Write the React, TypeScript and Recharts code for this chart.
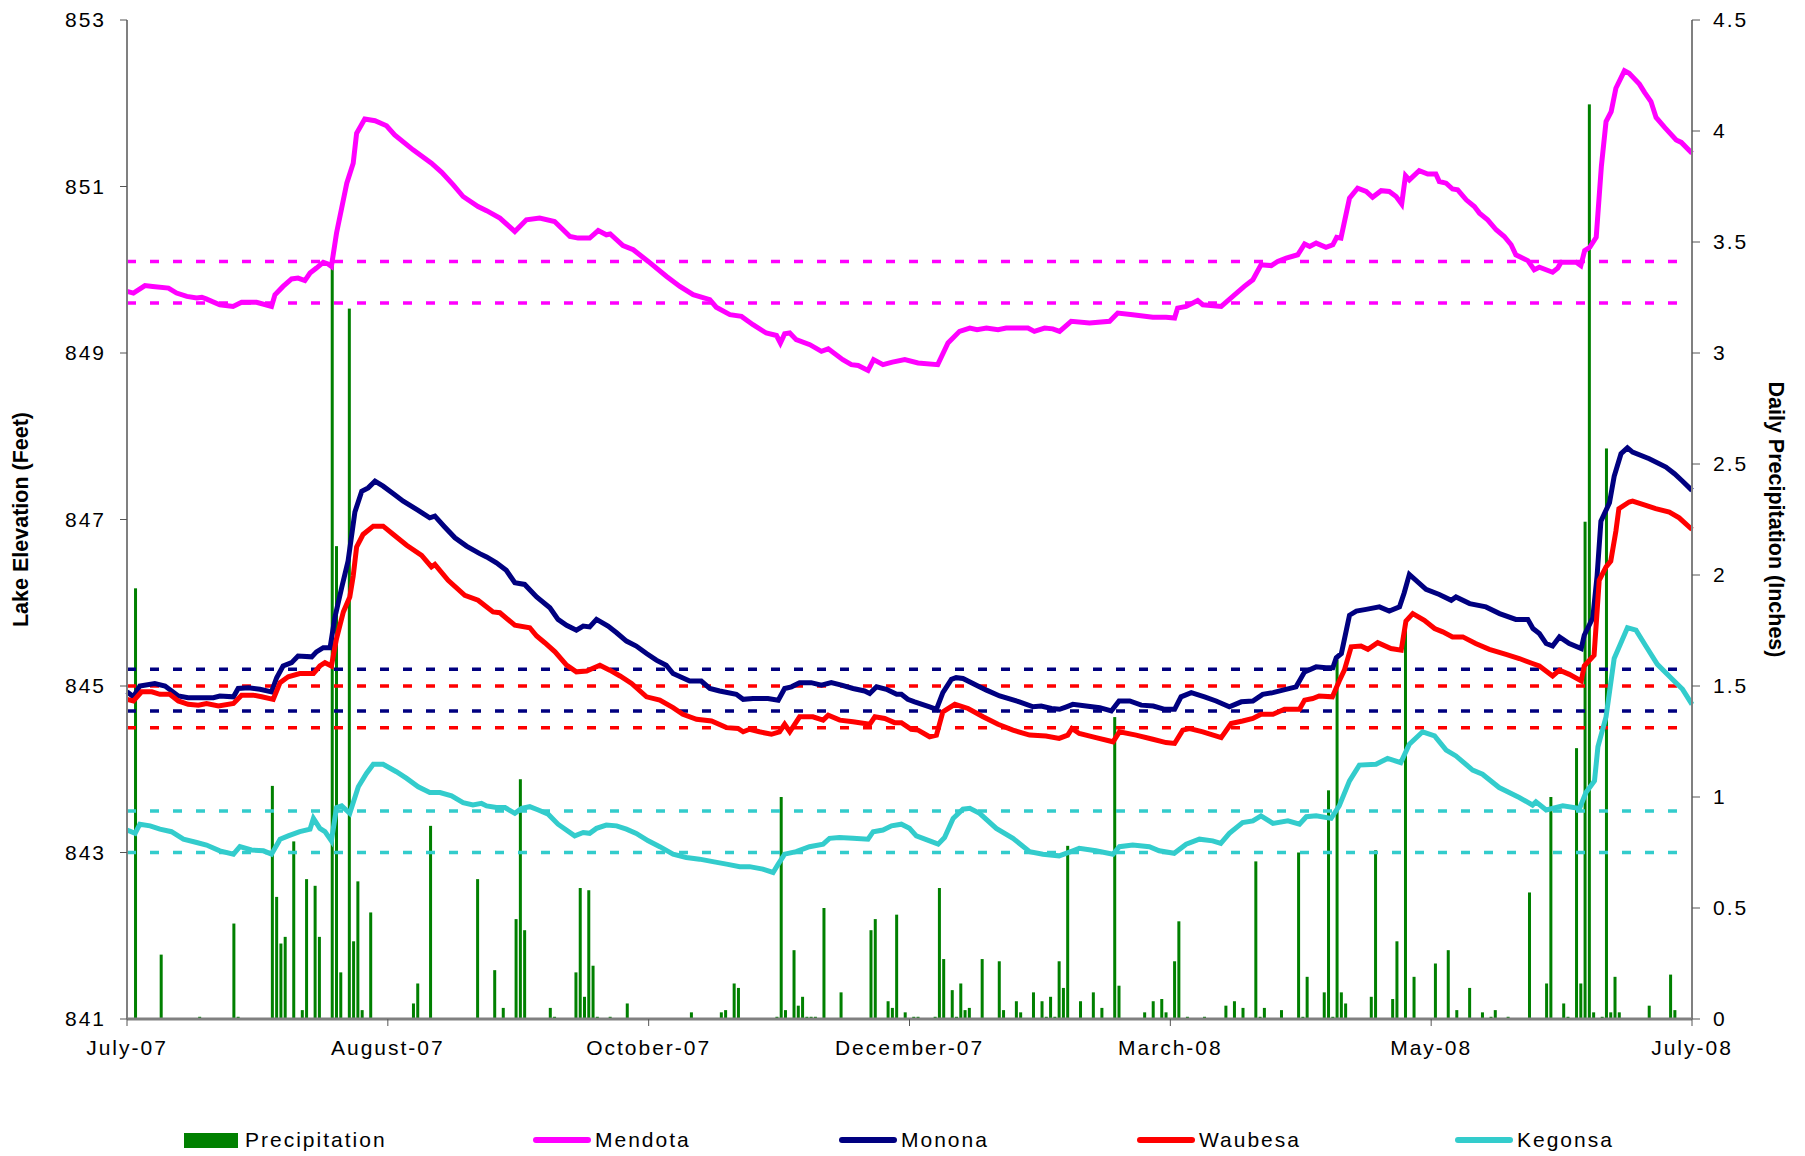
import {
  ComposedChart,
  Bar,
  Line,
  XAxis,
  YAxis,
  ReferenceLine,
  Legend,
} from 'recharts';

// x axis runs in days from 1 July 2007 (day 0) to 1 July 2008 (day 366)
const X_TICKS = [0, 61, 122, 183, 244, 305, 366];
const X_LABELS = ['July-07', 'August-07', 'October-07', 'December-07', 'March-08', 'May-08', 'July-08'];
const ELEVATION_TICKS = [841, 843, 845, 847, 849, 851, 853];
const PRECIP_TICKS = [0, 0.5, 1, 1.5, 2, 2.5, 3, 3.5, 4, 4.5];

// [day, feet]
const MENDOTA = [
  [0, 849.74], [1.5, 849.72], [4.2, 849.81], [6, 849.8], [9.7, 849.78], [11.6, 849.72], [14, 849.68],
  [16.3, 849.66], [17.5, 849.67], [18.5, 849.65], [21.7, 849.58], [24.8, 849.56], [26.8, 849.61],
  [30.3, 849.61], [33.8, 849.56], [34.6, 849.7], [36.5, 849.8], [38.5, 849.89], [40, 849.9],
  [41.6, 849.87], [42.8, 849.96], [44.3, 850.02], [45.9, 850.09], [47, 850.07], [47.8, 850.04],
  [49, 850.44], [51.4, 851.04], [52.9, 851.28], [53.7, 851.64], [55.6, 851.81], [58, 851.79],
  [60.7, 851.73], [62.6, 851.62], [66.9, 851.44], [71.2, 851.28], [73.6, 851.17], [76.3, 851.02],
  [78.6, 850.88], [82.1, 850.76], [84.1, 850.71], [87.2, 850.62], [90.7, 850.46], [93.4, 850.6],
  [96.5, 850.62], [100, 850.58], [103.6, 850.4], [105.5, 850.38], [108.2, 850.38], [110.2, 850.47],
  [112.1, 850.42], [113, 850.43], [116, 850.29], [118.4, 850.24], [121.9, 850.1], [126.2, 849.92],
  [129.3, 849.8], [132.4, 849.7], [136.3, 849.64], [137.8, 849.55], [141, 849.46], [143.7, 849.44],
  [146.4, 849.34], [149.5, 849.24], [151.9, 849.21], [152.8, 849.12], [153.8, 849.23], [155, 849.24],
  [156.5, 849.16], [159.7, 849.1], [162.4, 849.02], [164, 849.05], [167.4, 848.92], [169.4, 848.86],
  [171, 848.85], [173.3, 848.79], [174.6, 848.92], [176.8, 848.86], [179, 848.89], [181.9, 848.92],
  [185, 848.88], [189.6, 848.86], [192, 849.12], [194.7, 849.26], [197.1, 849.3], [198.8, 849.28],
  [201, 849.3], [203.7, 849.28], [205.6, 849.3], [210.7, 849.3], [212.2, 849.26], [214.6, 849.3],
  [216.5, 849.29], [218.1, 849.26], [220.8, 849.38], [225.1, 849.36], [229.8, 849.38], [231.7, 849.48],
  [235.2, 849.46], [239.9, 849.43], [243, 849.43], [245, 849.42], [245.7, 849.54], [247.7, 849.56],
  [250.4, 849.63], [251.6, 849.58], [255.9, 849.56], [258.6, 849.68], [261.3, 849.8], [263.3, 849.88],
  [265.2, 850.06], [267.6, 850.05], [269.1, 850.1], [271.1, 850.14], [273.8, 850.18], [275.4, 850.31],
  [276.6, 850.28], [278.1, 850.32], [280.4, 850.27], [282, 850.3], [282.9, 850.39], [283.9, 850.38],
  [285.9, 850.86], [287.8, 850.98], [289.8, 850.94], [291.3, 850.87], [293.3, 850.95], [295.2, 850.94],
  [296.8, 850.88], [298.1, 850.79], [299, 851.13], [299.9, 851.08], [302.2, 851.19], [304.2, 851.15],
  [306.1, 851.15], [306.9, 851.06], [308.5, 851.04], [310, 850.97], [311.2, 850.96], [313.2, 850.84],
  [315.1, 850.76], [316.3, 850.68], [318.2, 850.6], [320.2, 850.48], [322.1, 850.4], [323.7, 850.3],
  [324.8, 850.18], [327.6, 850.11], [329.1, 850], [330.3, 850.03], [333.4, 849.97], [334.6, 850.02],
  [335.4, 850.09], [338.9, 850.09], [340, 850.05], [340.9, 850.23], [342.1, 850.27], [343.6, 850.39],
  [344.8, 851.24], [345.9, 851.78], [347.1, 851.9], [348.2, 852.18], [350.2, 852.39], [351.3, 852.36],
  [353.7, 852.23], [354.9, 852.13], [356.4, 852.02], [357.6, 851.83], [359.6, 851.71], [362.3, 851.56],
  [363.5, 851.53], [366, 851.4],
];

const MONONA = [
  [0, 844.93], [1.5, 844.87], [3, 845], [6.5, 845.03], [8.9, 845], [12, 844.88], [14.3, 844.86],
  [20.2, 844.86], [21.7, 844.88], [24.9, 844.87], [26, 844.97], [28.4, 844.98], [31.1, 844.96],
  [33.8, 844.93], [35, 845.1], [36.5, 845.24], [38.5, 845.28], [40, 845.36], [43.2, 845.35],
  [44.3, 845.41], [45.9, 845.46], [47.5, 845.46], [48.6, 845.82], [50.2, 846.18], [51.7, 846.5],
  [53.3, 847.09], [54.9, 847.34], [56.4, 847.38], [58, 847.46], [59.9, 847.4], [62.3, 847.31],
  [64.6, 847.22], [68.1, 847.11], [70.8, 847.02], [72, 847.04], [74.3, 846.91], [76.7, 846.78],
  [79.4, 846.68], [82.5, 846.59], [84.1, 846.55], [86.4, 846.48], [88.7, 846.39], [90.7, 846.24],
  [93, 846.22], [95.8, 846.07], [98.9, 845.94], [100.8, 845.8], [102.8, 845.73], [105.1, 845.67],
  [106.7, 845.72], [108.2, 845.71], [109.8, 845.8], [112.5, 845.72], [114.5, 845.64], [116.8, 845.54],
  [119.1, 845.48], [121.5, 845.39], [123.8, 845.31], [126.1, 845.25], [127.7, 845.15], [131.6, 845.06],
  [134.3, 845.06], [136.3, 844.97], [138.6, 844.94], [142.5, 844.9], [144.1, 844.84], [146.4, 844.85],
  [149.9, 844.85], [152.3, 844.83], [153.8, 844.97], [155.4, 844.99], [157.3, 845.04], [160, 845.04],
  [162.4, 845.01], [164.7, 845.04], [167.1, 845.01], [169.8, 844.97], [172.5, 844.94], [173.7, 844.91],
  [175.3, 844.99], [177.6, 844.96], [180, 844.9], [181.1, 844.9], [182.6, 844.84], [184.2, 844.81],
  [187.7, 844.75], [189.3, 844.72], [190.8, 844.92], [192.8, 845.08], [193.9, 845.1], [195.5, 845.09],
  [199, 845], [201, 844.95], [204.1, 844.88], [208.7, 844.81], [211.9, 844.75], [213.8, 844.76],
  [216.2, 844.73], [218.1, 844.72], [219.7, 844.75], [221.2, 844.78], [224.3, 844.76], [227.5, 844.74],
  [230.2, 844.7], [232, 844.82], [234.5, 844.82], [237.2, 844.77], [240, 844.76], [242.7, 844.72],
  [245, 844.72], [246.5, 844.87], [248.9, 844.92], [252, 844.87], [254.7, 844.82], [257.8, 844.75],
  [260.6, 844.81], [263.3, 844.82], [265.6, 844.9], [268, 844.92], [270.3, 844.95], [273.4, 844.99],
  [275.4, 845.17], [278.1, 845.23], [280.4, 845.22], [282, 845.22], [282.8, 845.34], [284, 845.39],
  [285.9, 845.85], [287.5, 845.9], [289.8, 845.92], [292.9, 845.95], [295.2, 845.9], [297.6, 845.95],
  [298.7, 846.12], [299.9, 846.34], [303.8, 846.16], [306.9, 846.1], [309.7, 846.03], [310.8, 846.07],
  [314, 845.99], [317.8, 845.95], [321, 845.87], [324.8, 845.8], [327.6, 845.8], [328.8, 845.69],
  [330.3, 845.63], [331.9, 845.51], [333.4, 845.48], [335, 845.59], [337.3, 845.51], [340.1, 845.45],
  [340.8, 845.61], [342.8, 845.82], [343.8, 846.32], [344.7, 846.98], [346.7, 847.2], [347.8, 847.52],
  [349.4, 847.79], [350.9, 847.86], [352.1, 847.81], [356, 847.73], [359.9, 847.63], [361.9, 847.55],
  [363.8, 847.46], [366, 847.35],
];

const WAUBESA = [
  [0, 844.84], [1.5, 844.82], [3.4, 844.93], [5.8, 844.93], [7.7, 844.9], [10, 844.9], [12, 844.82],
  [14.3, 844.78], [16.7, 844.77], [18.6, 844.79], [21.4, 844.76], [24.9, 844.79], [26.8, 844.89],
  [29.5, 844.89], [31.5, 844.87], [34.2, 844.84], [35.8, 845.04], [37.7, 845.11], [40.4, 845.15],
  [43.6, 845.15], [45.1, 845.24], [46.3, 845.28], [47.8, 845.24], [49, 845.57], [50.6, 845.89],
  [52.1, 846.07], [52.9, 846.32], [53.7, 846.67], [55.2, 846.82], [57.6, 846.92], [59.9, 846.92],
  [62.3, 846.82], [65.4, 846.69], [68.9, 846.57], [71.2, 846.43], [72, 846.46], [75.1, 846.27],
  [79, 846.09], [82.1, 846.03], [85.6, 845.89], [87.2, 845.88], [90.7, 845.73], [94.2, 845.7],
  [95.8, 845.6], [97.7, 845.52], [100.1, 845.41], [102.8, 845.25], [105.1, 845.17], [107.5, 845.18],
  [110.6, 845.25], [112.9, 845.19], [115.3, 845.12], [118, 845.03], [121.5, 844.87], [124.6, 844.83],
  [127.7, 844.74], [130, 844.66], [133.2, 844.6], [136.7, 844.58], [140.2, 844.5], [142.9, 844.49],
  [144.1, 844.45], [145.6, 844.48], [147.9, 844.45], [150.7, 844.42], [152.6, 844.45], [153.8, 844.54],
  [155, 844.45], [157.3, 844.63], [160.4, 844.63], [162.8, 844.59], [164, 844.65], [166.7, 844.59],
  [169.8, 844.57], [173.7, 844.54], [174.9, 844.63], [177.2, 844.61], [179.5, 844.56], [181.1, 844.56],
  [183.4, 844.48], [185, 844.47], [187.7, 844.39], [189.3, 844.41], [190.8, 844.69], [193.6, 844.78],
  [196.7, 844.73], [200.2, 844.63], [203.7, 844.54], [207.2, 844.47], [211.1, 844.41], [214.9, 844.4],
  [218, 844.37], [220, 844.41], [221, 844.49], [222.7, 844.43], [226.6, 844.38], [230.6, 844.33],
  [232.1, 844.45], [236, 844.41], [239.9, 844.36], [243, 844.32], [245, 844.31], [246.9, 844.47],
  [248.5, 844.49], [251.6, 844.45], [255.9, 844.38], [258.2, 844.55], [260.9, 844.58], [263.3, 844.61],
  [265.2, 844.66], [268, 844.66], [270.7, 844.72], [274.2, 844.72], [275.4, 844.83], [277.3, 844.85],
  [278.8, 844.88], [281.9, 844.87], [283.5, 845.06], [284.7, 845.19], [286.3, 845.47], [288.6, 845.48],
  [290.2, 845.44], [292.5, 845.52], [295.6, 845.45], [298, 845.43], [299.1, 845.78], [300.7, 845.87],
  [303.4, 845.79], [305.8, 845.69], [307.7, 845.65], [310, 845.59], [312.4, 845.59], [315.4, 845.51],
  [318.6, 845.44], [322.5, 845.38], [325.6, 845.33], [328.7, 845.27], [330.3, 845.24], [333.4, 845.12],
  [335, 845.19], [337.3, 845.14], [340.1, 845.06], [340.8, 845.24], [343.1, 845.37], [344.3, 846.27],
  [345.9, 846.43], [347, 846.5], [348.2, 846.86], [348.9, 847.13], [351.3, 847.21], [352.1, 847.22],
  [355.2, 847.17], [357.5, 847.13], [360.7, 847.09], [363, 847.02], [366, 846.88],
];

const KEGONSA = [
  [0, 843.27], [1.9, 843.23], [3, 843.34], [5.4, 843.32], [7.7, 843.28], [10.4, 843.25], [13.2, 843.16],
  [16.3, 843.12], [18.6, 843.09], [21.7, 843.02], [24.9, 842.98], [26.4, 843.07], [29.1, 843.03],
  [31.9, 843.02], [33.8, 842.98], [35.8, 843.16], [37.7, 843.2], [40.4, 843.25], [42.8, 843.28],
  [43.6, 843.41], [45.1, 843.29], [46.3, 843.25], [47.8, 843.14], [49, 843.54], [50.2, 843.56],
  [52.1, 843.47], [54.1, 843.79], [56, 843.95], [57.6, 844.06], [59.9, 844.06], [63, 843.97],
  [65.4, 843.89], [68.1, 843.79], [70.8, 843.72], [73.2, 843.72], [75.9, 843.68], [78.6, 843.6],
  [80.9, 843.57], [82.9, 843.59], [84.1, 843.56], [86.4, 843.54], [88.4, 843.54], [90.7, 843.47],
  [92.3, 843.53], [94.2, 843.55], [96.2, 843.51], [98.5, 843.46], [100.8, 843.34], [104.7, 843.2],
  [106.7, 843.24], [108.2, 843.23], [109.8, 843.29], [112.1, 843.33], [114.5, 843.32], [116.8, 843.28],
  [119.1, 843.23], [121.9, 843.14], [124.6, 843.07], [127.7, 842.98], [130.8, 842.94], [133.9, 842.92],
  [137, 842.89], [140.2, 842.86], [143.3, 842.83], [145.6, 842.83], [148.7, 842.8], [151.1, 842.76],
  [152.3, 842.86], [153.8, 842.98], [156.5, 843.01], [159.6, 843.07], [162.8, 843.1], [164.3, 843.17],
  [166.6, 843.18], [169.8, 843.17], [173.3, 843.16], [174.5, 843.25], [176.8, 843.27], [178.8, 843.32],
  [181.1, 843.34], [183, 843.29], [184.6, 843.2], [187.7, 843.14], [189.7, 843.1], [191.2, 843.18],
  [193.2, 843.41], [195.5, 843.52], [197.1, 843.53], [199.4, 843.47], [203.3, 843.29], [207.2, 843.17],
  [211.1, 843.01], [214.2, 842.98], [218, 842.96], [221.2, 843.02], [222.7, 843.05], [226.6, 843.02],
  [230.6, 842.98], [232.1, 843.07], [235.2, 843.09], [239.1, 843.07], [241.4, 843.02], [244.9, 842.99],
  [247.7, 843.1], [250.8, 843.16], [253.9, 843.14], [255.8, 843.11], [257.8, 843.23], [260.9, 843.36],
  [263.3, 843.38], [265.2, 843.44], [268, 843.35], [271.5, 843.38], [274.2, 843.34], [275.8, 843.43],
  [278.1, 843.44], [281.6, 843.41], [283.5, 843.56], [285.9, 843.86], [288.2, 844.05], [292.1, 844.06],
  [294.8, 844.13], [297.9, 844.08], [299.9, 844.3], [303, 844.45], [305.8, 844.4], [308.5, 844.23],
  [310.8, 844.16], [314.7, 843.99], [317, 843.94], [320.9, 843.78], [325.6, 843.66], [328.7, 843.57],
  [329.5, 843.61], [331.9, 843.51], [335.8, 843.56], [339.7, 843.53], [341.2, 843.72], [343.2, 843.86],
  [344, 844.27], [345.9, 844.63], [347.8, 845.33], [350.9, 845.7], [352.9, 845.67], [355.2, 845.48],
  [357.9, 845.26], [361.4, 845.08], [363.8, 844.96], [366, 844.78],
];

// [day, inches]
const PRECIP = [
  [2, 1.94], [8, 0.29], [17, 0.01], [25, 0.43], [26, 0.01], [34, 1.05], [35, 0.55], [36, 0.34],
  [37, 0.37], [39, 0.8], [41, 0.04], [42, 0.63], [44, 0.6], [45, 0.37], [48, 3.42], [49, 2.13],
  [50, 0.21], [52, 3.2], [53, 0.35], [54, 0.62], [55, 0.04], [57, 0.48], [67, 0.07], [68, 0.16],
  [71, 0.87], [82, 0.63], [86, 0.22], [88, 0.05], [91, 0.45], [92, 1.08], [93, 0.4], [99, 0.05],
  [100, 0.01], [105, 0.21], [106, 0.59], [107, 0.1], [108, 0.58], [109, 0.24], [110, 0.01],
  [113, 0.01], [117, 0.07], [132, 0.03], [139, 0.03], [140, 0.04], [142, 0.16], [143, 0.14],
  [152, 0.01], [153, 1.0], [154, 0.04], [156, 0.31], [157, 0.06], [158, 0.1], [159, 0.01],
  [160, 0.01], [161, 0.01], [163, 0.5], [167, 0.12], [174, 0.4], [175, 0.45], [178, 0.08],
  [179, 0.05], [180, 0.47], [182, 0.03], [184, 0.01], [185, 0.01], [189, 0.01], [190, 0.59],
  [191, 0.27], [193, 0.13], [194, 0.01], [195, 0.16], [196, 0.04], [197, 0.05], [200, 0.27],
  [204, 0.26], [205, 0.04], [208, 0.08], [209, 0.03], [212, 0.12], [214, 0.08], [215, 0.01],
  [216, 0.1], [217, 0.01], [218, 0.26], [219, 0.14], [220, 0.78], [223, 0.08], [226, 0.12],
  [228, 0.05], [231, 1.36], [232, 0.15], [238, 0.03], [240, 0.08], [242, 0.09], [243, 0.03],
  [245, 0.26], [246, 0.44], [248, 0.01], [252, 0.01], [257, 0.06], [259, 0.08], [261, 0.05],
  [264, 0.71], [265, 0.01], [266, 0.05], [270, 0.04], [274, 0.75], [275, 0.01], [276, 0.19],
  [280, 0.12], [281, 1.03], [282, 0.01], [283, 1.62], [284, 0.12], [285, 0.07], [291, 0.1],
  [292, 0.76], [296, 0.09], [297, 0.35], [299, 1.78], [301, 0.19], [306, 0.25], [309, 0.31],
  [311, 0.04], [314, 0.14], [317, 0.03], [319, 0.01], [320, 0.04], [323, 0.01], [328, 0.57],
  [332, 0.16], [333, 1.0], [336, 0.07], [337, 0.01], [339, 1.22], [340, 0.16], [341, 2.24],
  [342, 4.12], [343, 0.03], [345, 0.01], [346, 2.57], [347, 0.03], [348, 0.19], [349, 0.03],
  [356, 0.06], [361, 0.2], [362, 0.04],
];

// dashed target bands, feet
const MENDOTA_LIMITS = [850.1, 849.6];
const MONONA_LIMITS = [845.2, 844.7];
const WAUBESA_LIMITS = [845.0, 844.5];
const KEGONSA_LIMITS = [843.5, 843.0];

const COLORS = {
  precip: '#008000',
  mendota: '#FF00FF',
  monona: '#000080',
  waubesa: '#FF0000',
  kegonsa: '#33CCCC',
};

const FONT = '"Liberation Sans", Arial, Helvetica, sans-serif';
const TICK_STYLE = { fontSize: 21, letterSpacing: 2, fill: '#000', fontFamily: FONT };

const toPoints = (rows: number[][]) => rows.map(([day, ft]) => ({ day, ft }));
const precipData = PRECIP.map(([day, inches]) => ({ day, inches }));

const LEGEND_ITEMS = [
  { name: 'Precipitation', color: COLORS.precip, kind: 'bar' },
  { name: 'Mendota', color: COLORS.mendota, kind: 'line' },
  { name: 'Monona', color: COLORS.monona, kind: 'line' },
  { name: 'Waubesa', color: COLORS.waubesa, kind: 'line' },
  { name: 'Kegonsa', color: COLORS.kegonsa, kind: 'line' },
];
const LEGEND_X = [184, 533, 839, 1137, 1455];

function ChartLegend() {
  return (
    <div style={{ position: 'relative', width: 1805, height: 40 }}>
      {LEGEND_ITEMS.map((item, i) => (
        <div
          key={item.name}
          style={{
            position: 'absolute',
            left: LEGEND_X[i],
            top: 12,
            height: 24,
            display: 'flex',
            alignItems: 'center',
            fontFamily: FONT,
            fontSize: 21,
            letterSpacing: 2,
            color: '#000',
            whiteSpace: 'nowrap',
          }}
        >
          {item.kind === 'bar' ? (
            <span style={{ display: 'inline-block', width: 54, height: 15, background: item.color }} />
          ) : (
            <span
              style={{ display: 'inline-block', width: 58, height: 6, borderRadius: 3, background: item.color }}
            />
          )}
          <span style={{ marginLeft: item.kind === 'bar' ? 7 : 4 }}>{item.name}</span>
        </div>
      ))}
    </div>
  );
}

function AxisTitle(props: any) {
  const { viewBox, text, side } = props;
  const vb = viewBox || {};
  const x = side === 'left' ? (vb.x ?? 0) + 21 : (vb.x ?? 1692) + 84;
  const y = (vb.y ?? 20) + (vb.height ?? 999) / 2;
  const angle = side === 'left' ? -90 : 90;
  return (
    <text
      x={x}
      y={y}
      transform={`rotate(${angle} ${x} ${y})`}
      textAnchor="middle"
      dominantBaseline="central"
      fontFamily={FONT}
      fontSize={21.5}
      fontWeight="bold"
      fill="#000"
    >
      {text}
    </text>
  );
}

// daily bars: keep the scaled x centre and height, draw a fixed 3px stick
function PrecipBar(props: any) {
  const { x, y, width, height, fill } = props;
  if (!height || height <= 0) return null;
  const cx = x + (width || 0) / 2;
  return <rect x={cx - 1.5} y={y} width={3} height={height} fill={fill} />;
}

const limitLines = (levels: number[], color: string) =>
  levels.map((y) => (
    <ReferenceLine
      key={`${color}-${y}`}
      yAxisId="left"
      y={y}
      stroke={color}
      strokeWidth={3.5}
      strokeDasharray="9 14"
    />
  ));

const lineProps = {
  yAxisId: 'left',
  dataKey: 'ft',
  strokeWidth: 5,
  dot: false,
  activeDot: false,
  isAnimationActive: false,
};

export default function App() {
  return (
    <div style={{ position: 'absolute', left: 0, top: 0, width: 1805, height: 1156, background: '#fff' }}>
      <ComposedChart
        width={1805}
        height={1156}
        data={precipData}
        margin={{ top: 20, right: 0, bottom: 0, left: 0 }}
      >
        <XAxis
          dataKey="day"
          type="number"
          domain={[0, 366]}
          ticks={X_TICKS}
          interval={0}
          tickFormatter={(v: number) => X_LABELS[X_TICKS.indexOf(v)] ?? ''}
          height={97}
          tickSize={7}
          tickMargin={14}
          tick={TICK_STYLE}
          axisLine={{ stroke: '#808080', strokeWidth: 3 }}
          tickLine={{ stroke: '#555' }}
        />
        <YAxis
          yAxisId="left"
          domain={[841, 853]}
          ticks={ELEVATION_TICKS}
          interval={0}
          width={127}
          tickSize={7}
          tickMargin={14}
          tick={TICK_STYLE}
          axisLine={{ stroke: '#808080', strokeWidth: 2 }}
          tickLine={{ stroke: '#555' }}
          label={<AxisTitle side="left" text="Lake Elevation (Feet)" />}
        />
        <YAxis
          yAxisId="right"
          orientation="right"
          domain={[0, 4.5]}
          ticks={PRECIP_TICKS}
          interval={0}
          width={113}
          tickSize={8}
          tickMargin={13}
          tick={TICK_STYLE}
          axisLine={{ stroke: '#808080', strokeWidth: 2 }}
          tickLine={{ stroke: '#555' }}
          label={<AxisTitle side="right" text="Daily Precipitation (Inches)" />}
        />
        <Legend verticalAlign="bottom" height={40} content={<ChartLegend />} wrapperStyle={{ left: 0, width: 1805 }} />
        {limitLines(MENDOTA_LIMITS, COLORS.mendota)}
        {limitLines(MONONA_LIMITS, COLORS.monona)}
        {limitLines(WAUBESA_LIMITS, COLORS.waubesa)}
        {limitLines(KEGONSA_LIMITS, COLORS.kegonsa)}
        <Bar
          yAxisId="right"
          dataKey="inches"
          name="Precipitation"
          fill={COLORS.precip}
          barSize={3}
          shape={<PrecipBar />}
          isAnimationActive={false}
        />
        <Line {...lineProps} data={toPoints(MENDOTA)} name="Mendota" stroke={COLORS.mendota} />
        <Line {...lineProps} data={toPoints(MONONA)} name="Monona" stroke={COLORS.monona} />
        <Line {...lineProps} data={toPoints(WAUBESA)} name="Waubesa" stroke={COLORS.waubesa} />
        <Line {...lineProps} data={toPoints(KEGONSA)} name="Kegonsa" stroke={COLORS.kegonsa} />
      </ComposedChart>
    </div>
  );
}
